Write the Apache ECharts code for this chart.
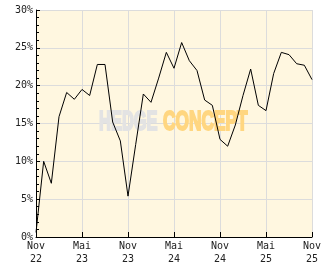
<!DOCTYPE html>
<html><head><meta charset="utf-8">
<script src="https://cdn.jsdelivr.net/npm/echarts@6/dist/echarts.min.js"></script>
<style>html,body{margin:0;padding:0;background:#fff}#c{width:332px;height:269px}</style>
</head><body><div id="c"></div>
<script>
// months since Nov 2022 (0 .. 36)
const tickLabels = ["Nov\n22","Mai\n23","Nov\n23","Mai\n24","Nov\n24","Mai\n25","Nov\n25"];
const values = [
  0.6, 10.0, 7.1, 15.9, 19.1, 18.2, 19.5, 18.7, 22.8, 22.8, 15.2, 12.7,
  5.4, 12.2, 18.9, 17.8, 21.0, 24.4, 22.3, 25.7, 23.3, 22.0, 18.1, 17.4,
  12.9, 12.0, 14.8, 18.7, 22.2, 17.4, 16.7, 21.6, 24.4, 24.1, 22.9, 22.7,
  20.8
];
const yTicks = [0, 5, 10, 15, 20, 25, 30];

const chart = echarts.init(document.getElementById('c'), null, {renderer: 'canvas'});
const font = '"DejaVu Sans Mono", monospace';
const wmFont = 'bold 27px "Liberation Sans", Arial, sans-serif';
chart.setOption({
  animation: false,
  backgroundColor: '#ffffff',
  grid: {left: 36, right: 20, top: 10, bottom: 32, show: true, backgroundColor: '#FFF7E0', borderWidth: 0},
  xAxis: {
    type: 'value', min: 0, max: 36, interval: 6,
    axisLine: {show: true, lineStyle: {color: '#000', width: 1}},
    axisTick: {show: true, inside: true, length: 5, lineStyle: {color: '#000'}},
    axisLabel: {fontFamily: font, fontSize: 10, color: '#222', lineHeight: 13, margin: 3,
      formatter: v => tickLabels[Math.round(v / 6)] || ''},
    splitLine: {show: true, lineStyle: {color: '#dcdcdc', width: 1}}
  },
  yAxis: {
    type: 'value', min: yTicks[0], max: yTicks[yTicks.length - 1], interval: 5,
    axisLine: {show: true, lineStyle: {color: '#000', width: 1}},
    axisTick: {show: true, inside: true, length: 4, lineStyle: {color: '#000'}},
    minorTick: {show: true, splitNumber: 5, length: 3, lineStyle: {color: '#000'}},
    axisLabel: {fontFamily: font, fontSize: 10, color: '#222', margin: 3, formatter: '{value}%'},
    splitLine: {show: true, lineStyle: {color: '#dcdcdc', width: 1}}
  },
  graphic: [
    {type: 'text', x: 99, y: 123, scaleX: 0.61, z: 1, silent: true,
      style: {text: 'HEDGE', font: wmFont, fill: '#E3E3E3', stroke: '#E3E3E3', lineWidth: 2, verticalAlign: 'middle'}},
    {type: 'text', x: 163, y: 123, scaleX: 0.64, z: 1, silent: true,
      style: {text: 'CONCEPT', font: wmFont, fill: '#FFD680', stroke: '#FFD680', lineWidth: 2, verticalAlign: 'middle'}}
  ],
  series: [{
    type: 'line', data: values.map((v, i) => [i, v]), symbol: 'none', z: 5,
    lineStyle: {color: '#000', width: 1}
  }]
});
</script></body></html>
